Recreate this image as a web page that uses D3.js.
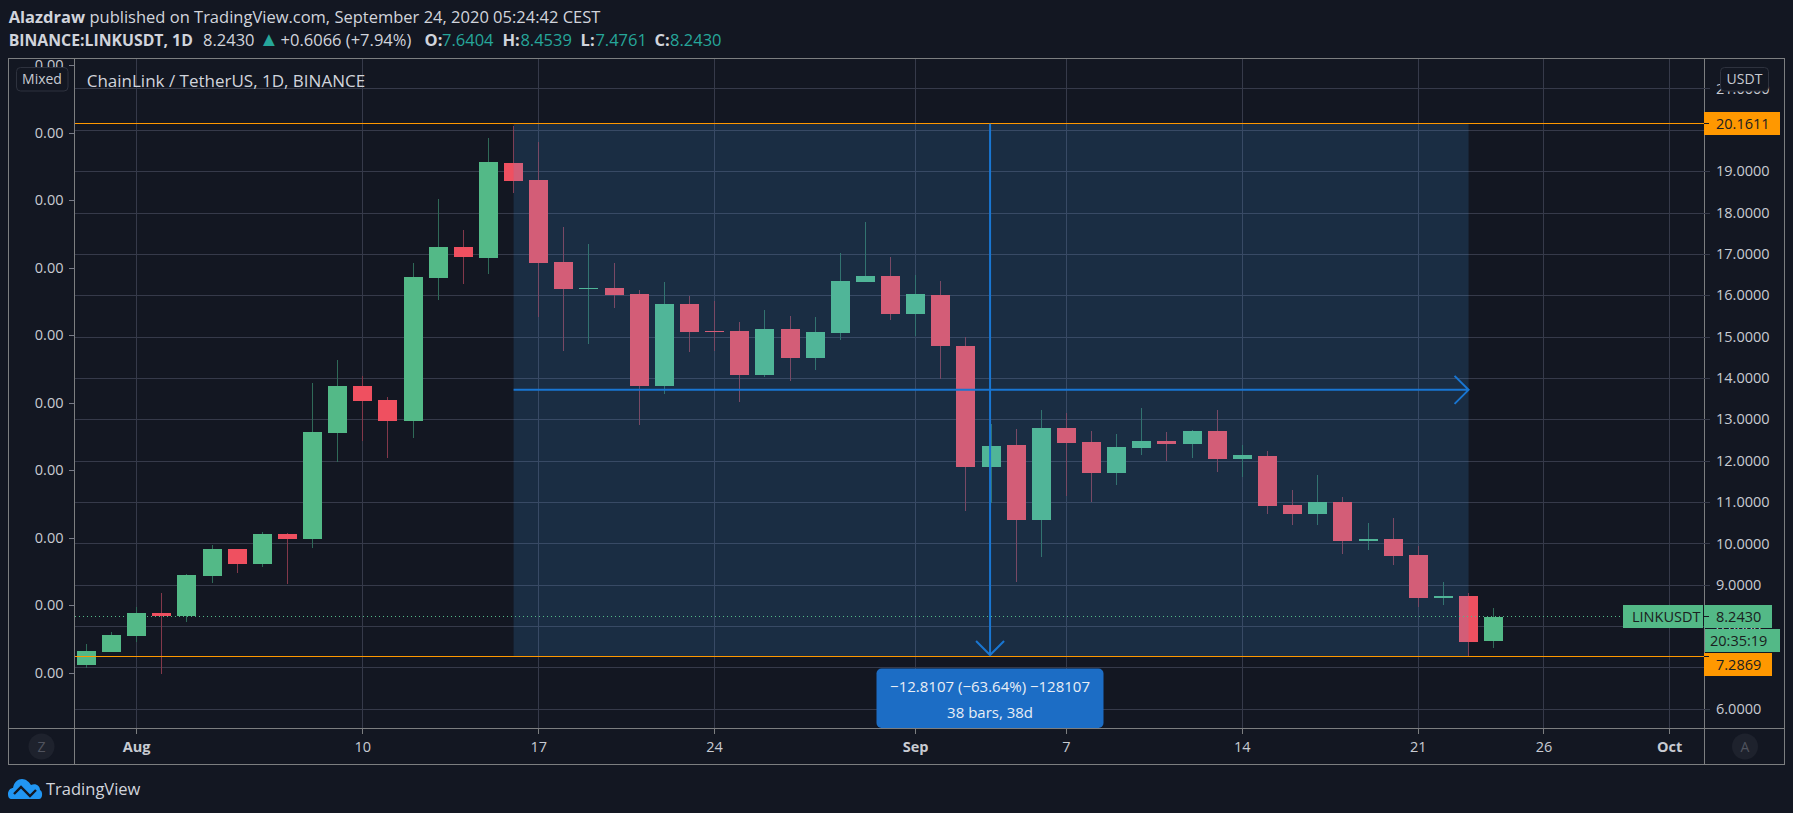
<!DOCTYPE html>
<html>
<head>
<meta charset="utf-8">
<script src="https://cdn.jsdelivr.net/npm/d3@7"></script>
<style>
  html, body { margin: 0; padding: 0; background: #131722; overflow: hidden; }
  text { font-family: "Open Sans", sans-serif; }
  .crisp { shape-rendering: crispEdges; }
</style>
</head>
<body>
<div id="chart"></div>
<script>
// candles (day, open, high, low, close)
const days = ["2020-07-30","2020-07-31","2020-08-01","2020-08-02","2020-08-03","2020-08-04","2020-08-05","2020-08-06","2020-08-07","2020-08-08",
  "2020-08-09","2020-08-10","2020-08-11","2020-08-12","2020-08-13","2020-08-14","2020-08-15","2020-08-16","2020-08-17","2020-08-18",
  "2020-08-19","2020-08-20","2020-08-21","2020-08-22","2020-08-23","2020-08-24","2020-08-25","2020-08-26","2020-08-27","2020-08-28",
  "2020-08-29","2020-08-30","2020-08-31","2020-09-01","2020-09-02","2020-09-03","2020-09-04","2020-09-05","2020-09-06","2020-09-07",
  "2020-09-08","2020-09-09","2020-09-10","2020-09-11","2020-09-12","2020-09-13","2020-09-14","2020-09-15","2020-09-16","2020-09-17",
  "2020-09-18","2020-09-19","2020-09-20","2020-09-21","2020-09-22","2020-09-23","2020-09-24"];
const opens = [7.07,7.39,7.77,8.33,8.26,9.22,9.88,9.51,10.24,10.12,
  12.68,13.82,13.48,12.97,16.43,17.18,16.91,19.21,18.80,16.82,
  16.16,16.19,16.04,13.82,15.80,15.15,15.15,14.08,15.20,14.49,
  15.10,16.33,16.48,15.56,16.02,14.78,11.86,12.39,10.58,12.80,
  12.46,11.71,12.32,12.49,12.42,12.73,12.05,12.13,10.94,10.72,
  11.01,10.07,10.12,9.73,8.69,8.74,7.6404];
const highs = [7.58,7.87,8.47,8.81,9.27,9.97,9.88,10.29,10.26,13.89,
  14.45,14.06,13.55,16.79,18.34,17.59,19.81,20.10,19.72,17.66,
  17.25,16.79,16.14,16.33,15.99,15.87,15.37,15.66,15.51,15.49,
  17.03,17.78,16.94,16.50,16.36,15.00,12.90,12.78,13.24,13.17,
  12.73,12.66,13.29,12.71,12.76,13.24,12.39,12.25,11.30,11.67,
  11.13,10.51,10.63,9.95,9.08,8.81,8.4539];
const lows = [7.00,7.39,7.63,6.85,8.11,9.05,9.30,9.44,9.03,9.90,
  11.98,12.49,12.08,12.56,15.90,16.28,16.53,18.48,15.49,14.66,
  14.83,15.70,12.87,13.62,14.64,14.66,13.43,14.04,13.94,14.20,
  14.93,16.33,15.41,15.03,13.99,10.80,11.00,9.08,9.68,11.16,
  11.01,11.42,12.15,12.00,12.08,11.74,11.62,10.72,10.46,10.46,
  9.76,9.85,9.49,8.47,8.52,7.29,7.4761];
const closes = [7.41,7.80,8.33,8.26,9.25,9.88,9.51,10.24,10.12,12.71,
  13.82,13.46,12.97,16.45,17.18,16.94,19.23,18.77,16.79,16.16,
  16.19,16.02,13.82,15.80,15.12,15.12,14.08,15.20,14.49,15.12,
  16.36,16.48,15.56,16.04,14.78,11.86,12.37,10.58,12.80,12.44,
  11.71,12.34,12.49,12.42,12.73,12.05,12.15,10.92,10.72,11.01,
  10.07,10.12,9.71,8.69,8.74,7.63,8.2430];

// axes
const priceTicks = [21,20,19,18,17,16,15,14,13,12,11,10,9,8,7,6];
const leftTicks = [0,0.0005,0.001,0.0015,0.002,0.0025,0.003,0.0035,0.004,0.0045];
const timeTicks = ["2020-08-01","2020-08-10","2020-08-17","2020-08-24","2020-09-01","2020-09-07","2020-09-14","2020-09-21","2020-09-26","2020-10-01"];
const timeLabels = ["Aug","10","17","24","Sep","7","14","21","26","Oct"];
const boldLabels = ["Aug","Sep","Oct"];

// price range tool
const rangeTop = 20.1611;
const rangeBottom = 7.2869;
const lastPrice = 8.2430;
const rangeStart = "2020-08-16";
const rangeEnd = "2020-09-23";
const rangeMiddleDay = "2020-09-04";

const bg = "#131722", gridColor = "#363a4a", frameColor = "#7c7e80", textColor = "#c8cbd2";
const upColor = "#53b987", downColor = "#ef5060", upWick = "#2f6a58", downWick = "#83384a";
const orange = "#ff9800", blue = "#1976d2";

const width = 1793, height = 813;
const frame = { left: 8.5, top: 58, right: 1784.5, bottom: 764.5 };
const plot = { left: 74.5, right: 1704, bottom: 728.5 };
const bodyWidth = 19;

const parseDay = d3.utcParse("%Y-%m-%d");
const x = d3.scaleUtc().domain([parseDay("2020-08-10"), parseDay("2020-10-01")]).range([362.8, 1669.6]);
const y = d3.scaleLinear().domain([6, 20]).range([709.3, 130.3]);
const yLeft = d3.scaleLinear().domain([0, 0.0045]).range([673, 65.5]);

const svg = d3.select("#chart").append("svg").attr("width", width).attr("height", height)
  .style("display", "block");
svg.append("rect").attr("width", width).attr("height", height).attr("fill", bg);

// the top left label is cut by the frame
svg.append("clipPath").attr("id", "plotClip").append("rect")
  .attr("x", -100).attr("y", frame.top).attr("width", width).attr("height", frame.bottom - frame.top);

// grid
const grid = svg.append("g").attr("class", "crisp").attr("stroke", gridColor).attr("stroke-width", 1);
grid.selectAll(".h").data(priceTicks).join("line").attr("class", "h")
  .attr("x1", plot.left).attr("x2", plot.right).attr("y1", d => y(d)).attr("y2", d => y(d));
grid.selectAll(".v").data(timeTicks).join("line").attr("class", "v")
  .attr("x1", d => x(parseDay(d))).attr("x2", d => x(parseDay(d)))
  .attr("y1", frame.top).attr("y2", plot.bottom);

// candles
const candles = days.map((d, i) => ({ day: parseDay(d), o: opens[i], h: highs[i], l: lows[i], c: closes[i] }));
const candle = svg.append("g").attr("class", "crisp").selectAll("g").data(candles).join("g");
candle.append("line")
  .attr("x1", d => x(d.day)).attr("x2", d => x(d.day))
  .attr("y1", d => y(d.h)).attr("y2", d => y(d.l))
  .attr("stroke", d => d.c >= d.o ? upWick : downWick);
candle.append("rect")
  .attr("x", d => x(d.day) - bodyWidth / 2).attr("width", bodyWidth)
  .attr("y", d => y(Math.max(d.o, d.c)))
  .attr("height", d => Math.abs(y(d.o) - y(d.c)))
  .attr("fill", d => d.c >= d.o ? upColor : downColor);

// range shading goes over the candles
svg.append("rect")
  .attr("x", x(parseDay(rangeStart))).attr("width", x(parseDay(rangeEnd)) - x(parseDay(rangeStart)))
  .attr("y", y(rangeTop)).attr("height", y(rangeBottom) - y(rangeTop))
  .attr("fill", "rgb(69,160,240)").attr("fill-opacity", 0.16);

// last price
svg.append("line").attr("class", "crisp")
  .attr("x1", plot.left).attr("x2", 1623).attr("y1", y(lastPrice)).attr("y2", y(lastPrice))
  .attr("stroke", upColor).attr("stroke-dasharray", "1,3");

// horizontal levels
svg.append("g").attr("class", "crisp").selectAll("line").data([rangeTop, rangeBottom]).join("line")
  .attr("x1", plot.left).attr("x2", plot.right).attr("y1", d => y(d)).attr("y2", d => y(d))
  .attr("stroke", orange);

// measure arrows
const midX = x(parseDay(rangeMiddleDay)) - 1;
const midY = y((rangeTop + rangeBottom) / 2);
const endX = x(parseDay(rangeEnd));
const startX = x(parseDay(rangeStart));
const arrows = svg.append("g").attr("fill", "none").attr("stroke", blue).attr("stroke-width", 2);
arrows.append("path").attr("d", `M${midX},${y(rangeTop)}V${y(rangeBottom) - 1}M${midX - 14},${y(rangeBottom) - 15}L${midX},${y(rangeBottom) - 1}L${midX + 14},${y(rangeBottom) - 15}`);
arrows.append("path").attr("d", `M${startX},${midY}H${endX}M${endX - 14},${midY - 14}L${endX},${midY}L${endX - 14},${midY + 14}`);

// measure label
svg.append("rect").attr("x", 876.5).attr("y", 668.5).attr("width", 227).attr("height", 59.5).attr("rx", 5)
  .attr("fill", "#1c6dc5");
const infoText = svg.append("g").attr("text-anchor", "middle").attr("fill", "#e8eef6").attr("font-size", 15);
infoText.append("text").attr("x", midX).attr("y", 691.5).text("\u221212.8107 (\u221263.64%) \u2212128107");
infoText.append("text").attr("x", midX).attr("y", 718).text("38 bars, 38d");

// frame
svg.append("rect").attr("class", "crisp")
  .attr("x", frame.left).attr("y", frame.top).attr("width", frame.right - frame.left).attr("height", frame.bottom - frame.top)
  .attr("fill", "none").attr("stroke", frameColor);
const frameLines = svg.append("g").attr("class", "crisp").attr("stroke", frameColor);
frameLines.append("line").attr("x1", plot.left).attr("x2", plot.left).attr("y1", frame.top).attr("y2", frame.bottom);
frameLines.append("line").attr("x1", plot.right + 0.5).attr("x2", plot.right + 0.5).attr("y1", frame.top).attr("y2", frame.bottom);
frameLines.append("line").attr("x1", frame.left).attr("x2", frame.right).attr("y1", plot.bottom).attr("y2", plot.bottom);

function styleAxis(g, tickColor, fontSize) {
  g.select(".domain").remove();
  g.selectAll(".tick line").attr("stroke", tickColor).attr("class", "crisp");
  g.selectAll(".tick text").attr("fill", textColor).attr("font-size", fontSize)
    .style("font-family", '"Open Sans", sans-serif');
}

// left axis, every value rounds to 0.00
const leftAxis = svg.append("g").attr("clip-path", "url(#plotClip)")
  .attr("transform", `translate(${plot.left},0)`)
  .call(d3.axisLeft(yLeft).tickValues(leftTicks).tickFormat(d3.format(".2f")).tickSize(6).tickPadding(5).offset(0));
styleAxis(leftAxis, "#787b86", 14.5);

// right axis
const rightAxis = svg.append("g").attr("transform", `translate(${plot.right},0)`)
  .call(d3.axisRight(y).tickValues(priceTicks).tickFormat(d3.format(".4f")).tickSize(6).tickPadding(6).offset(0));
styleAxis(rightAxis, gridColor, 14.5);

// time axis
const timeAxis = svg.append("g").attr("transform", `translate(0,${plot.bottom})`)
  .call(d3.axisBottom(x).tickValues(timeTicks.map(parseDay)).tickFormat((d, i) => timeLabels[i]).tickSize(5).tickPadding(8).offset(0));
styleAxis(timeAxis, frameColor, 14.5);
timeAxis.selectAll(".tick text").attr("font-weight", (d, i) => boldLabels.includes(timeLabels[i]) ? 700 : 400);

// price tags
function priceTag(x0, x1, price, fill, label, textX, tagY) {
  const cy = tagY === undefined ? y(price) : tagY;
  svg.append("rect").attr("class", "crisp").attr("x", x0).attr("y", cy - 11.5).attr("width", x1 - x0).attr("height", 23).attr("fill", fill);
  svg.append("text").attr("x", textX).attr("y", cy + 5).attr("font-size", 14.5).attr("fill", "#1a2020").text(label);
}
priceTag(1623, 1703, lastPrice, upColor, "LINKUSDT", 1632);
priceTag(1704, 1772, lastPrice, upColor, d3.format(".4f")(lastPrice), 1716);
priceTag(1705, 1780, lastPrice, upColor, "20:35:19", 1710, 640.5);
priceTag(1704, 1780, rangeTop, orange, d3.format(".4f")(rangeTop), 1716);
priceTag(1704, 1772, rangeBottom, orange, d3.format(".4f")(rangeBottom), 1716, 664.5);
const tagTicks = svg.append("g").attr("class", "crisp").attr("stroke", bg);
[rangeTop, lastPrice, rangeBottom].forEach(p => {
  tagTicks.append("line").attr("x1", plot.right).attr("x2", plot.right + 5).attr("y1", y(p)).attr("y2", y(p));
});

// buttons
function button(x0, y0, w, h, label, cx) {
  svg.append("rect").attr("x", x0).attr("y", y0).attr("width", w).attr("height", h).attr("rx", 4)
    .attr("fill", bg).attr("stroke", "#2e323e");
  svg.append("text").attr("x", cx).attr("y", y0 + h / 2 + 5).attr("text-anchor", "middle")
    .attr("font-size", 14).attr("fill", textColor).text(label);
}
button(16.5, 67.5, 51.5, 23.5, "Mixed", 42);
button(1720.5, 67.5, 48, 23.5, "USDT", 1744.5);

function roundButton(cx, cy, label) {
  svg.append("circle").attr("cx", cx).attr("cy", cy).attr("r", 13).attr("fill", "#1e222d");
  svg.append("text").attr("x", cx).attr("y", cy + 5).attr("text-anchor", "middle")
    .attr("font-size", 14).attr("fill", "#50535e").text(label);
}
roundButton(41.5, 746.5, "Z");
roundButton(1745, 746.5, "A");

// header
svg.append("text").attr("x", 86.7).attr("y", 86.5).attr("font-size", 17).attr("fill", "#d1d4dc")
  .text("ChainLink / TetherUS, 1D, BINANCE");

const head1 = svg.append("text").attr("x", 8.7).attr("y", 22.5).attr("font-size", 16.5).attr("fill", "#d1d4dc");
head1.append("tspan").attr("font-weight", 700).text("Alazdraw");
head1.append("tspan").text(" published on TradingView.com, September 24, 2020 05:24:42 CEST");

const teal = "#26a69a";
const headParts = [
  { x: 8.7, t: "BINANCE:LINKUSDT, 1D", bold: true, size: 15.8 },
  { x: 203, t: "8.2430" },
  { x: 259, t: "\u25B2", c: teal, size: 20 },
  { x: 280.6, t: "+0.6066 (+7.94%)" },
  { x: 424.5, t: "O:", bold: true },
  { x: 442, t: "7.6404", c: teal },
  { x: 502.5, t: "H:", bold: true },
  { x: 520.4, t: "8.4539", c: teal },
  { x: 580.6, t: "L:", bold: true },
  { x: 595.4, t: "7.4761", c: teal },
  { x: 654.6, t: "C:", bold: true },
  { x: 670, t: "8.2430", c: teal }
];
svg.append("g").selectAll("text").data(headParts).join("text")
  .attr("x", d => d.x).attr("y", 46)
  .attr("font-size", d => d.size || 16.5)
  .attr("font-weight", d => d.bold ? 700 : 400)
  .attr("fill", d => d.c || "#d1d4dc")
  .text(d => d.t);

// logo
const logo = svg.append("g").attr("transform", "translate(8,779)");
logo.append("path").attr("fill", "#2196f3")
  .attr("d", "M0,15 C0,11 3,9 5,9 C6,3 10,0 14,0 C18,0 21,3 23,6 C28,4 32,7 32,11 C35,12 35,20 31,20 L4,20 C1,20 0,18 0,15 Z");
logo.append("path").attr("fill", "none").attr("stroke", bg).attr("stroke-width", 2.4)
  .attr("d", "M6,15 L13,8 L22,17 L28,11");
svg.append("text").attr("x", 46).attr("y", 795).attr("font-size", 16.5).attr("fill", "#d1d4dc").text("TradingView");
</script>
</body>
</html>
